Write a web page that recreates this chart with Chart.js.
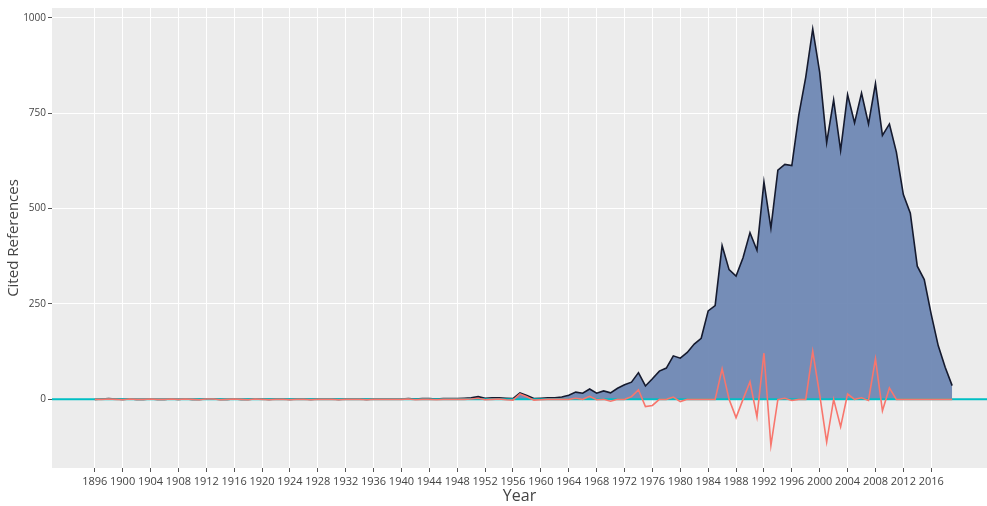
<!DOCTYPE html>
<html><head><meta charset="utf-8">
<script src="https://cdn.jsdelivr.net/npm/chart.js@4/dist/chart.umd.min.js"></script>
<style>html,body{margin:0;padding:0;background:#fff}#wrap{width:987px;height:506px;position:relative}</style>
</head><body><div id="wrap"><canvas id="c"></canvas></div>
<script>
const years = [1896,1897,1898,1899,1900,1901,1902,1903,1904,1905,1906,1907,1908,1909,1910,1911,1912,1913,1914,1915,
1916,1917,1918,1919,1920,1921,1922,1923,1924,1925,1926,1927,1928,1929,1930,1931,1932,1933,1934,1935,
1936,1937,1938,1939,1940,1941,1942,1943,1944,1945,1946,1947,1948,1949,1950,1951,1952,1953,1954,1955,
1956,1957,1958,1959,1960,1961,1962,1963,1964,1965,1966,1967,1968,1969,1970,1971,1972,1973,1974,1975,
1976,1977,1978,1979,1980,1981,1982,1983,1984,1985,1986,1987,1988,1989,1990,1991,1992,1993,1994,1995,
1996,1997,1998,1999,2000,2001,2002,2003,2004,2005,2006,2007,2008,2009,2010,2011,2012,2013,2014,2015,
2016,2017,2018,2019];
const citations = [0,1,2,1,0,1,0,0,1,0,0,1,0,1,0,0,1,1,0,0,
1,0,0,1,1,0,1,1,0,1,1,0,1,1,1,0,1,1,1,0,
1,1,1,1,1,2,1,2,2,1,2,2,2,3,4,7,3,4,4,3,
2,17,10,2,3,4,4,6,11,19,16,27,16,22,17,29,38,45,70,35,
54,74,82,114,108,123,145,160,232,246,403,340,323,371,437,391,570,449,601,616,
613,745,845,971,857,673,785,653,799,725,803,722,828,692,722,648,537,488,349,314,
223,141,84,36];
const diffMedian = [0,0,1,0,-1,1,0,0,1,0,0,1,0,1,0,-1,1,1,-1,0,
1,0,-1,1,0,-1,0,0,-1,0,0,-1,0,0,0,-1,0,0,0,-1,
0,0,0,0,0,1,-1,0,0,-1,0,0,0,0,1,3,-1,0,1,-1,
-2,14,7,-2,-1,0,0,0,0,3,0,8,-1,0,-5,0,0,7,25,-19,
-16,0,0,6,-6,0,0,0,0,0,80,0,-48,0,46,-46,121,-121,0,3,
-3,0,0,126,12,-112,0,-72,14,0,4,-3,106,-30,30,0,0,0,0,0,
0,0,0,0];
const xTicks = [1896,1900,1904,1908,1912,1916,1920,1924,1928,1932,1936,1940,1944,1948,1952,1956,1960,1964,1968,1972,1976,1980,1984,1988,1992,1996,2000,2004,2008,2012,2016];
const yTicks = [0,250,500,750,1000];
const X_MIN = 1889.87, X_MAX = 2024, Y_MIN = -180, Y_MAX = 1026;

const panelBg = {
  id: 'panelBg',
  beforeDraw(chart) {
    const {ctx, chartArea: a} = chart;
    ctx.save();
    ctx.fillStyle = '#ECECEC';
    ctx.fillRect(a.left, a.top, a.width, a.height);
    ctx.restore();
  }
};
const zeroLine = {
  id: 'zeroLine',
  afterDatasetDraw(chart, args) {
    if (args.index !== 0) return;
    const {ctx, chartArea: a} = chart;
    const y = chart.scales.y.getPixelForValue(0);
    ctx.save();
    ctx.strokeStyle = '#00BFC4';
    ctx.lineWidth = 2;
    ctx.beginPath();
    ctx.moveTo(a.left, y);
    ctx.lineTo(a.right, y);
    ctx.stroke();
    ctx.restore();
  }
};

const font = {family: "'Open Sans', sans-serif", size: 11};
new Chart(document.getElementById('c'), {
  type: 'line',
  data: {
    datasets: [
      {
        label: 'Citations',
        data: years.map((yr, i) => ({x: yr, y: citations[i]})),
        borderColor: '#151a2e',
        borderWidth: 1.6,
        backgroundColor: 'rgba(106,132,178,0.92)',
        fill: 'origin',
        pointRadius: 0,
        tension: 0,
        order: 2
      },
      {
        label: 'Diff from median',
        data: years.map((yr, i) => ({x: yr, y: diffMedian[i]})),
        borderColor: '#F8766D',
        borderWidth: 1.6,
        fill: false,
        pointRadius: 0,
        tension: 0,
        order: 0
      }
    ]
  },
  options: {
    responsive: true,
    maintainAspectRatio: false,
    animation: false,
    devicePixelRatio: 1,
    layout: {padding: {top: 5, right: 0, bottom: 0, left: 0}},
    plugins: {legend: {display: false}, tooltip: {enabled: false}},
    scales: {
      x: {
        type: 'linear',
        min: X_MIN, max: X_MAX,
        afterBuildTicks(s) { s.ticks = xTicks.map(v => ({value: v})); },
        afterFit(s) { s.height = 38; },
        ticks: {autoSkip: false, maxRotation: 0, minRotation: 0, color: '#444', font, padding: 3,
          callback: v => String(v)},
        grid: {color: '#FFFFFF', lineWidth: 1, tickLength: 4, tickColor: '#555', drawTicks: true},
        border: {display: false},
        title: {display: true, text: 'Year', color: '#444', font: {family: "'Open Sans', sans-serif", size: 16}, padding: {top: 0, bottom: 0}}
      },
      y: {
        type: 'linear',
        min: Y_MIN, max: Y_MAX,
        afterBuildTicks(s) { s.ticks = yTicks.map(v => ({value: v})); },
        afterFit(s) { s.width = 52; },
        ticks: {color: '#444', font: {family: "'Open Sans', sans-serif", size: 10}, padding: 2, callback: v => String(v)},
        grid: {color: '#FFFFFF', lineWidth: 1, tickLength: 4, tickColor: '#555'},
        border: {display: false},
        title: {display: true, text: 'Cited References', color: '#444', font: {family: "'Open Sans', sans-serif", size: 15}, padding: {top: 5, bottom: 0}}
      }
    }
  },
  plugins: [panelBg, zeroLine]
});
</script>
</body></html>
